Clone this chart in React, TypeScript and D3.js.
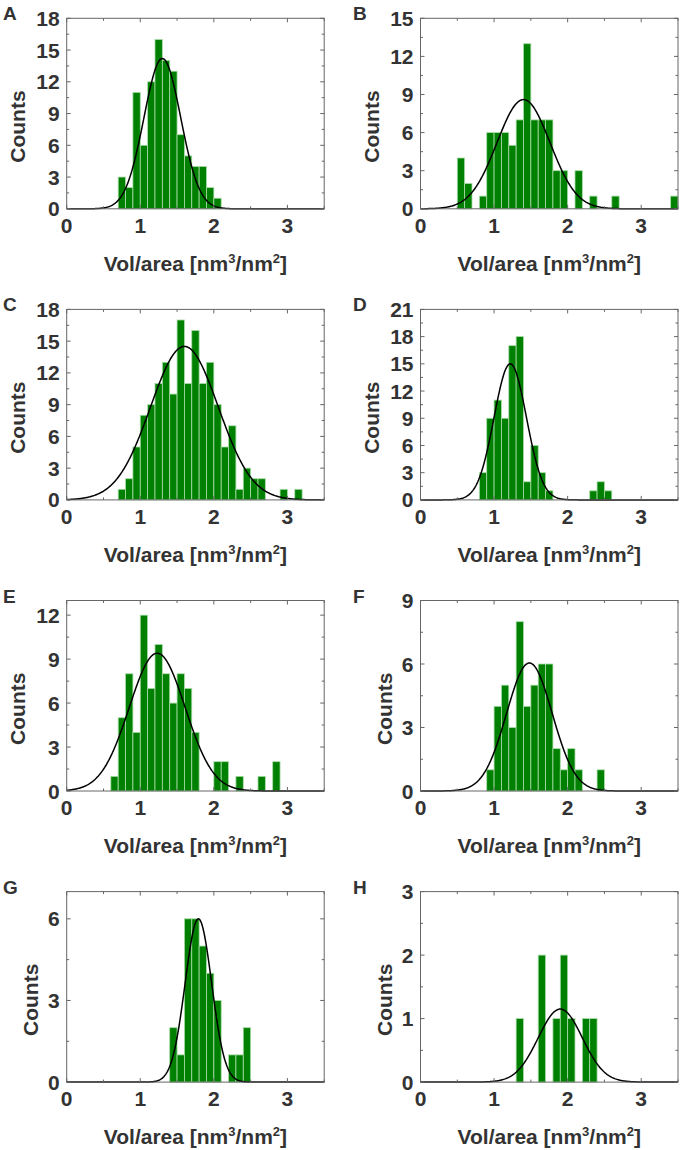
import React, { useEffect, useRef } from "react";
import * as d3 from "d3";

// histogram counts, bin width 0.1, first bin lower edge in *_start
const labels = ["A", "B", "C", "D", "E", "F", "G", "H"];
const binWidth = 0.1;
const startA = 0.7, countsA = [3, 2, 11, 6, 12, 16, 14, 13, 7, 5, 4, 4, 2, 1];
const startB = 0.5, countsB = [4, 2, 0, 1, 6, 6, 6, 5, 7, 13, 7, 7, 7, 3, 3, 0, 3, 0, 1, 0, 0, 1, 0, 0, 0, 0, 0, 0, 0, 1];
const startC = 0.7, countsC = [1, 2, 5, 8, 9, 11, 13, 10, 17, 11, 16, 11, 13, 9, 5, 7, 1, 3, 2, 2, 0, 0, 1, 0, 1];
const startD = 0.8, countsD = [3, 9, 11, 9, 17, 18, 2, 6, 3, 1, 0, 0, 0, 0, 0, 1, 2, 1];
const startE = 0.6, countsE = [1, 5, 8, 4, 12, 7, 10, 8, 6, 8, 7, 4, 0, 0, 2, 2, 0, 1, 0, 0, 1, 0, 2];
const startF = 0.9, countsF = [1, 4, 5, 3, 8, 4, 5, 6, 6, 2, 1, 2, 1, 0, 0, 1];
const startG = 1.4, countsG = [2, 1, 6, 6, 5, 4, 3, 0, 1, 1, 2];
const startH = 1.3, countsH = [1, 0, 0, 2, 0, 1, 2, 1, 0, 1, 1];

const starts = [startA, startB, startC, startD, startE, startF, startG, startH];
const counts = [countsA, countsB, countsC, countsD, countsE, countsF, countsG, countsH];

// gaussian fit: centre, sigma, peak height
const fitMean = [1.3, 1.4, 1.6, 1.22, 1.23, 1.48, 1.79, 1.9];
const fitSigma = [0.25, 0.36, 0.46, 0.22, 0.38, 0.31, 0.18, 0.3];
const fitPeak = [14.2, 8.6, 14.5, 15.0, 9.4, 6.05, 6.0, 1.15];

// axes
const yMax = [18, 15, 18, 21, 13, 9, 7, 3];
const yStep = [3, 3, 3, 3, 3, 3, 3, 1];
const xTicks = [0, 1, 2, 3];
const xMax = 3.5;

const font = "'Liberation Sans', Arial, sans-serif";
const txt = "#333";
const axisCol = "#666";

function App() {
  const ref = useRef(null);

  useEffect(() => {
    const svg = d3.select(ref.current);
    svg.selectAll("*").remove();

    const colX = [66.7, 420.5];
    const plotW = 257.5, plotH = 190.5;

    labels.forEach((lab, i) => {
      const col = i % 2, row = Math.floor(i / 2);
      const x0 = colX[col], y0 = 18.3 + row * 291.1;
      const g = svg.append("g").attr("transform", `translate(${x0},${y0})`);

      const x = d3.scaleLinear().domain([0, xMax]).range([0, plotW]);
      const y = d3.scaleLinear().domain([0, yMax[i]]).range([plotH, 0]);

      const bins = counts[i]
        .map((c, k) => ({ lo: starts[i] + k * binWidth, c }))
        .filter(d => d.c > 0);

      g.append("g")
        .selectAll("rect")
        .data(bins)
        .join("rect")
        .attr("x", d => x(d.lo))
        .attr("width", d => x(d.lo + binWidth) - x(d.lo))
        .attr("y", d => y(d.c))
        .attr("height", d => plotH - y(d.c))
        .attr("fill", "#008000")
        .attr("stroke", "#a9dca9")
        .attr("stroke-width", 0.8);

      const pts = d3.range(0, xMax + 0.0001, 0.01);
      const line = d3.line()
        .x(v => x(v))
        .y(v => y(fitPeak[i] * Math.exp(-((v - fitMean[i]) ** 2) / (2 * fitSigma[i] ** 2))));
      g.append("path")
        .attr("d", line(pts))
        .attr("fill", "none")
        .attr("stroke", "#000")
        .attr("stroke-width", 1.5);

      // frame
      g.append("rect")
        .attr("width", plotW).attr("height", plotH)
        .attr("fill", "none").attr("stroke", axisCol).attr("stroke-width", 1);

      // inward ticks on all sides
      const tk = g.append("g").attr("stroke", axisCol).attr("stroke-width", 1);
      const xt = d3.range(0, xMax + 0.001, 0.5);
      xt.forEach(v => {
        const len = v % 1 === 0 ? 4 : 2.5;
        tk.append("line").attr("x1", x(v)).attr("x2", x(v)).attr("y1", plotH).attr("y2", plotH - len);
        tk.append("line").attr("x1", x(v)).attr("x2", x(v)).attr("y1", 0).attr("y2", len);
      });
      const yt = d3.range(0, yMax[i] + 0.001, yStep[i] / 2);
      yt.forEach((v, k) => {
        const len = k % 2 === 0 ? 4 : 2.5;
        tk.append("line").attr("x1", 0).attr("x2", len).attr("y1", y(v)).attr("y2", y(v));
        tk.append("line").attr("x1", plotW).attr("x2", plotW - len).attr("y1", y(v)).attr("y2", y(v));
      });

      // tick labels
      g.append("g")
        .selectAll("text")
        .data(xTicks)
        .join("text")
        .attr("x", d => x(d))
        .attr("y", plotH + 24)
        .attr("text-anchor", "middle")
        .attr("font-family", font).attr("font-weight", "bold").attr("font-size", 21)
        .attr("fill", txt)
        .text(d => d);

      const yLab = d3.range(0, yMax[i] + 0.001, yStep[i]);
      g.append("g")
        .selectAll("text")
        .data(yLab)
        .join("text")
        .attr("x", -7)
        .attr("y", d => y(d))
        .attr("dy", "0.36em")
        .attr("text-anchor", "end")
        .attr("font-family", font).attr("font-weight", "bold").attr("font-size", 21)
        .attr("fill", txt)
        .text(d => d);

      // axis titles
      const nd = String(yLab[yLab.length - 1]).length;
      g.append("text")
        .attr("transform", `translate(${-(15.7 + 13 * nd)},${plotH / 2 + 13}) rotate(-90)`)
        .attr("text-anchor", "middle")
        .attr("font-family", font).attr("font-weight", "bold").attr("font-size", 21)
        .attr("fill", txt)
        .text("Counts");

      const xt2 = g.append("text")
        .attr("x", plotW / 2)
        .attr("y", plotH + 62)
        .attr("text-anchor", "middle")
        .attr("font-family", font).attr("font-weight", "bold").attr("font-size", 21)
        .attr("fill", txt);
      xt2.append("tspan").text("Vol/area [nm");
      xt2.append("tspan").attr("font-size", 13).attr("dy", -8).text("3");
      xt2.append("tspan").attr("dy", 8).text("/nm");
      xt2.append("tspan").attr("font-size", 13).attr("dy", -8).text("2");
      xt2.append("tspan").attr("dy", 8).text("]");

      // panel letter
      svg.append("text")
        .attr("x", col === 0 ? 3 : 353)
        .attr("y", y0 + 2)
        .attr("font-family", font).attr("font-weight", "bold").attr("font-size", 19)
        .attr("fill", txt)
        .text(lab);
    });
  }, []);

  return (
    <svg
      ref={ref}
      width={682}
      height={1150}
      style={{ position: "absolute", left: 0, top: 0, background: "#fff" }}
    />
  );
}

export default App;
